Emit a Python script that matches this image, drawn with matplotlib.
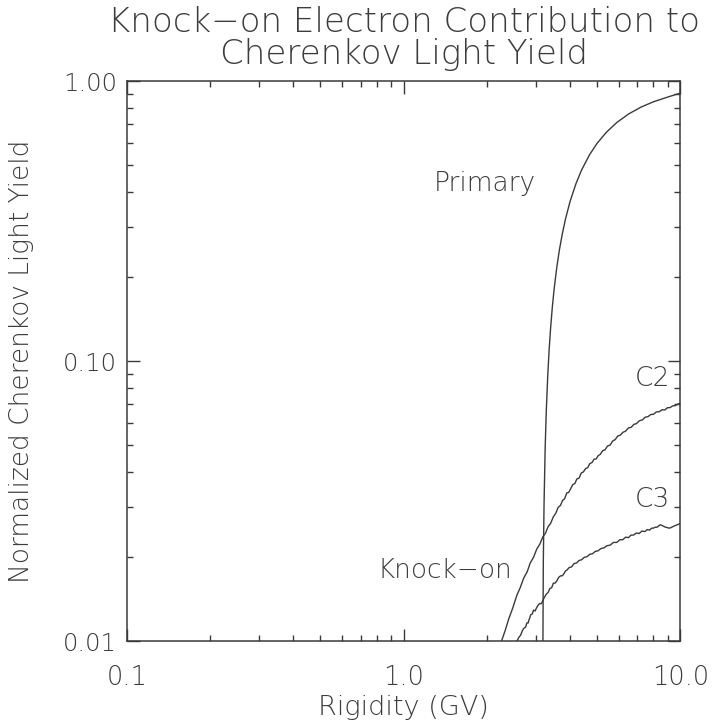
import matplotlib
matplotlib.use("Agg")
import matplotlib.pyplot as plt
from matplotlib.ticker import LogLocator, NullFormatter, FixedLocator, FixedFormatter

# Rigidity (GV) and normalized Cherenkov light yield for the primary particle
primary_rigidity = [3.19, 3.20, 3.22, 3.25, 3.28, 3.32, 3.36, 3.40, 3.45, 3.50,
                    3.58, 3.66, 3.75, 3.85, 4.00, 4.20, 4.40, 4.70, 5.00, 5.40,
                    5.90, 6.50, 7.20, 8.00, 9.00, 10.0]
primary_yield = [0.0100, 0.0190, 0.0310, 0.0490, 0.0660, 0.0885, 0.1100, 0.1310,
                 0.1560, 0.1800, 0.2160, 0.2500, 0.2850, 0.3220, 0.3720, 0.4300,
                 0.4810, 0.5450, 0.5980, 0.6550, 0.7110, 0.7620, 0.8060, 0.8430,
                 0.8760, 0.9050]

# Knock-on electron contribution, C2 threshold
c2_rigidity = [2.26, 2.33, 2.40, 2.48, 2.57, 2.64, 2.72, 2.80, 2.87, 2.95,
               3.03, 3.11, 3.19, 3.26, 3.33, 3.40, 3.48, 3.55, 3.62, 3.69,
               3.76, 3.82, 3.89, 3.95, 4.02, 4.09, 4.16, 4.23, 4.31, 4.39,
               4.47, 4.55, 4.63, 4.71, 4.80, 4.88, 4.97, 5.05, 5.14, 5.24,
               5.35, 5.46, 5.58, 5.70, 5.82, 5.95, 6.07, 6.20, 6.35, 6.50,
               6.65, 6.80, 6.95, 7.12, 7.30, 7.47, 7.65, 7.82, 8.00, 8.20,
               8.40, 8.60, 8.80, 9.00, 9.20, 9.40, 9.60, 9.80, 10.0]
c2_yield = [0.0100, 0.0109, 0.0120, 0.0131, 0.0146, 0.0155, 0.0168, 0.0177,
            0.0190, 0.0199, 0.0213, 0.0222, 0.0236, 0.0243, 0.0256, 0.0263,
            0.0278, 0.0286, 0.0300, 0.0305, 0.0318, 0.0322, 0.0338, 0.0339,
            0.0350, 0.0362, 0.0365, 0.0379, 0.0382, 0.0398, 0.0402, 0.0413,
            0.0416, 0.0430, 0.0434, 0.0446, 0.0447, 0.0459, 0.0464, 0.0478,
            0.0482, 0.0497, 0.0501, 0.0518, 0.0524, 0.0540, 0.0543, 0.0556,
            0.0562, 0.0577, 0.0580, 0.0594, 0.0598, 0.0612, 0.0616, 0.0630,
            0.0633, 0.0644, 0.0645, 0.0658, 0.0659, 0.0670, 0.0669, 0.0681,
            0.0682, 0.0692, 0.0693, 0.0702, 0.0706]

# Knock-on electron contribution, C3 threshold
c3_rigidity = [2.57, 2.61, 2.65, 2.69, 2.72, 2.76, 2.79, 2.82, 2.84, 2.86,
               2.88, 2.92, 2.95, 2.99, 3.02, 3.06, 3.10, 3.15, 3.19, 3.24,
               3.28, 3.33, 3.38, 3.43, 3.48, 3.53, 3.58, 3.64, 3.70, 3.75,
               3.80, 3.85, 3.89, 3.97, 4.05, 4.13, 4.22, 4.31, 4.40, 4.50,
               4.60, 4.71, 4.82, 4.93, 5.05, 5.17, 5.30, 5.44, 5.58, 5.74,
               5.90, 6.05, 6.20, 6.35, 6.50, 6.64, 6.78, 6.94, 7.10, 7.27,
               7.45, 7.60, 7.75, 7.88, 8.00, 8.12, 8.25, 8.36, 8.47, 8.58,
               8.70, 8.85, 9.00, 9.12, 9.25, 9.40, 9.55, 9.75, 10.0]
c3_yield = [0.0100, 0.0103, 0.0105, 0.0109, 0.0111, 0.0112, 0.0116, 0.0116,
            0.0119, 0.0121, 0.0124, 0.0125, 0.0129, 0.0128, 0.0131, 0.0134,
            0.0136, 0.0136, 0.0140, 0.0144, 0.0147, 0.0149, 0.0154, 0.0155,
            0.0161, 0.0161, 0.0164, 0.0169, 0.0171, 0.0171, 0.0174, 0.0178,
            0.0179, 0.0183, 0.0184, 0.0189, 0.0190, 0.0194, 0.0195, 0.0199,
            0.0200, 0.0204, 0.0205, 0.0209, 0.0210, 0.0214, 0.0215, 0.0219,
            0.0220, 0.0225, 0.0225, 0.0230, 0.0230, 0.0235, 0.0234, 0.0239,
            0.0239, 0.0243, 0.0242, 0.0247, 0.0246, 0.0250, 0.0249, 0.0253,
            0.0253, 0.0255, 0.0255, 0.0258, 0.0260, 0.0259, 0.0257, 0.0255,
            0.0254, 0.0253, 0.0254, 0.0256, 0.0258, 0.0260, 0.0263]

x_ticks = [0.1, 1.0, 10.0]
x_tick_labels = ["0.1", "1.0", "10.0"]
y_ticks = [0.01, 0.1, 1.0]
y_tick_labels = ["0.01", "0.10", "1.00"]

ink = "#3a3a3a"
text_col = "#3c3c3c"
plt.rcParams["font.family"] = ["DejaVu Sans"]
plt.rcParams["font.weight"] = "light"
plt.rcParams["axes.labelweight"] = "light"

fig = plt.figure(figsize=(7.13, 7.24), dpi=100)
ax = fig.add_axes([0.178, 0.1146, 0.776, 0.7735])

ax.plot(primary_rigidity, primary_yield, color=ink, lw=1.0)
ax.plot(c2_rigidity, c2_yield, color=ink, lw=1.0)
ax.plot(c3_rigidity, c3_yield, color=ink, lw=1.0)

ax.set_xscale("log")
ax.set_yscale("log")
ax.set_xlim(0.1, 10.0)
ax.set_ylim(0.01, 1.0)

ax.xaxis.set_major_locator(FixedLocator(x_ticks))
ax.xaxis.set_major_formatter(FixedFormatter(x_tick_labels))
ax.yaxis.set_major_locator(FixedLocator(y_ticks))
ax.yaxis.set_major_formatter(FixedFormatter(y_tick_labels))
ax.xaxis.set_minor_locator(LogLocator(base=10, subs=range(2, 10)))
ax.yaxis.set_minor_locator(LogLocator(base=10, subs=range(2, 10)))
ax.xaxis.set_minor_formatter(NullFormatter())
ax.yaxis.set_minor_formatter(NullFormatter())

ax.tick_params(which="both", direction="in", top=True, right=True,
               color=ink, width=1.0, labelcolor=text_col)
ax.tick_params(which="major", length=9)
ax.tick_params(which="minor", length=4.5)
ax.tick_params(axis="x", which="major", pad=17, labelsize=18.5)
ax.tick_params(axis="y", which="major", pad=7, labelsize=17.5)
for s in ax.spines.values():
    s.set_color(ink)
    s.set_linewidth(1.1)

ax.set_xlabel("Rigidity (GV)", fontsize=19.5, color=text_col, va="center",
              fontweight="light")
ax.xaxis.set_label_coords(0.5, -0.118)
ax.set_ylabel("Normalized Cherenkov Light Yield", fontsize=19, color=text_col,
              va="center", fontweight="light")
ax.yaxis.set_label_coords(-0.19, 0.5)

fig.text(0.566, 0.969, "Knock\u2212on Electron Contribution to",
         ha="center", va="center", fontsize=24.5, color=text_col)
fig.text(0.566, 0.925, "Cherenkov Light Yield",
         ha="center", va="center", fontsize=24.5, color=text_col)

ax.text(1.97, 0.432, "Primary", fontsize=19, color=text_col, ha="center", va="center")
ax.text(1.41, 0.0179, "Knock\u2212on", fontsize=19, color=text_col, ha="center", va="center")
ax.text(7.95, 0.0869, "C2", fontsize=19, color=text_col, ha="center", va="center")
ax.text(7.95, 0.0319, "C3", fontsize=19, color=text_col, ha="center", va="center")

fig.savefig("out.png", dpi=100)
